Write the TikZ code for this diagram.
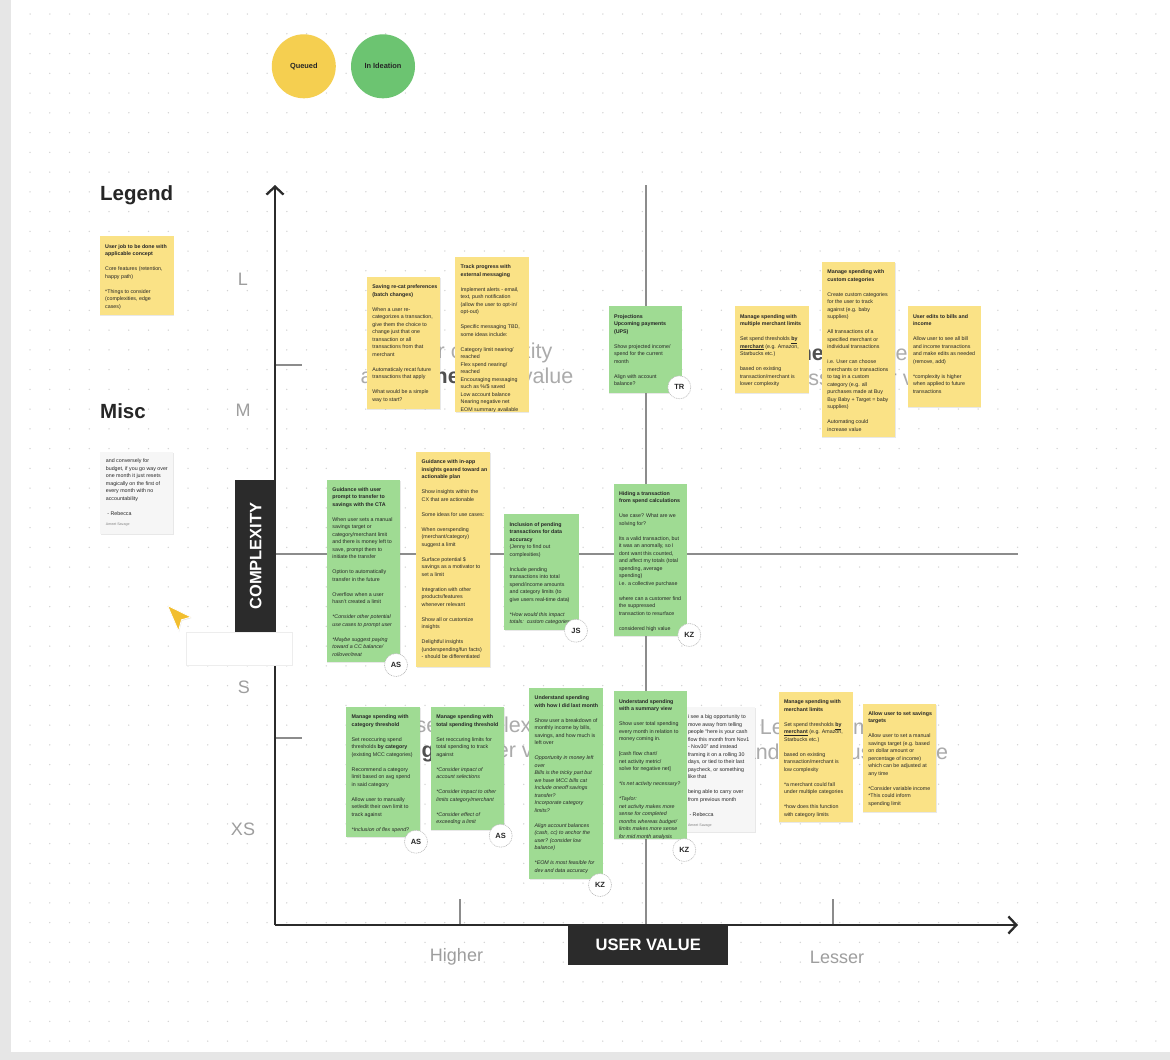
\documentclass[tikz,border=0pt]{standalone}
\usepackage{fontspec}
\setmainfont{Liberation Sans}
\usetikzlibrary{arrows.meta,shadows}
\definecolor{noteY}{HTML}{FAE286}
\definecolor{noteG}{HTML}{9FDB93}
\definecolor{cardc}{HTML}{F6F6F6}
\definecolor{ink}{HTML}{262626}
\definecolor{axisc}{HTML}{2B2B2B}
\definecolor{quadc}{HTML}{8C8C8C}
\definecolor{labc}{HTML}{9E9E9E}
\definecolor{ghostc}{HTML}{ABABAB}
\definecolor{ghostdark}{HTML}{505050}
\definecolor{dotc}{HTML}{D2D2D2}
\definecolor{stripc}{HTML}{E6E6E6}
\definecolor{queuedc}{HTML}{F5CF50}
\definecolor{ideac}{HTML}{6CC471}
\definecolor{cursorc}{HTML}{F2BE2E}
\newcommand\gp{\\[7.5pt]}
\newcommand\bft[1]{\textbf{#1}}
\newcommand\itt[1]{\textit{#1}}
\begin{document}
\begin{tikzpicture}[x=1pt,y=-1pt,
  note/.style={anchor=north west, inner sep=0pt, minimum width=74pt,
    drop shadow={shadow xshift=0.4pt, shadow yshift=-1.2pt, opacity=0.18}},
  ynote/.style={note, fill=noteY},
  gnote/.style={note, fill=noteG},
  cnote/.style={note, fill=cardc},
  ntext/.style={anchor=north west, align=left, inner sep=0pt,
    font=\fontsize{5.3}{7.5}\selectfont, text=ink},
  avatar/.style={circle, fill=white, draw=gray!55, dash pattern=on 1pt off 0.8pt,
    line width=0.6pt, minimum size=23pt, inner sep=0pt,
    font=\bfseries\fontsize{7.5}{7.5}\selectfont, text=ink},
  ghost/.style={align=center, inner sep=0pt, text=ghostc,
    font=\fontsize{21.5}{25}\selectfont},
  axlab/.style={text=labc, inner sep=0pt, font=\fontsize{18}{18}\selectfont},
  axis/.style={draw=axisc, line width=2.3pt, -{Straight Barb[length=8pt,width=17pt]}},
  quad/.style={draw=quadc, line width=1.8pt},
  bigtitle/.style={anchor=west, inner sep=0pt, text=ink, font=\bfseries\fontsize{20.5}{20.5}\selectfont},
  status/.style={circle, minimum size=64pt, inner sep=0pt, text=ink, font=\bfseries\fontsize{7.4}{7.4}\selectfont},
  darkbox/.style={fill=axisc, text=white, inner sep=0pt, font=\bfseries\fontsize{16.5}{16.5}\selectfont}
]
\useasboundingbox (0,0) rectangle (1170,1060);
\fill[white] (0,0) rectangle (1170,1060);
\fill[stripc] (0,0) rectangle (10.5,1060);
\fill[stripc] (0,1052) rectangle (1170,1060);
\foreach \i in {0,...,57}{
  \foreach \j in {0,...,52}{
    \fill[dotc] ({30+\i*19.75},{14+\j*19.75}) circle (0.75pt);
  }
}
% status circles
\node[status, fill=queuedc] (queued) at (303.8,66.3) {Queued};
\node[status, fill=ideac] (ideation) at (383,66.3) {In Ideation};
% ghost quadrant labels (mostly hidden behind the notes)
\node[ghost] (gtl) at (467,365.5) {Higher complexity\\and \textbf{\textcolor{ghostdark}{higher}} user value};
\node[ghost] (gtr) at (852,365.5) {\textbf{\textcolor{ghostdark}{Higher}} complexity\\and lesser user value};
\node[ghost] (gbl) at (467,739.5) {Lesser complexity\\and \textbf{\textcolor{ghostdark}{higher}} user value};
\node[ghost] (gbr) at (846,739.5) {Lesser complexity\\and lesser user value};
% quadrant lines and ticks
\coordinate (vtop) at (646,185);
\coordinate (vbot) at (646,925);
\coordinate (hleft) at (275,554);
\coordinate (hright) at (1018,554);
\draw[quad] (vtop) -- (vbot);
\draw[quad] (hleft) -- (hright);
\coordinate (tl1) at (275,365); \coordinate (tl2) at (302,365);
\coordinate (tx1) at (275,738); \coordinate (tx2) at (302,738);
\coordinate (th1) at (460,925); \coordinate (th2) at (460,899);
\coordinate (tr1) at (833,925); \coordinate (tr2) at (833,899);
\draw[quad] (tl1) -- (tl2);
\draw[quad] (tx1) -- (tx2);
\draw[quad] (th1) -- (th2);
\draw[quad] (tr1) -- (tr2);
% axes
\coordinate (origin) at (275,925);
\coordinate (ytip) at (275,185);
\coordinate (xtip) at (1018,925);
\draw[axis] (origin) -- (ytip);
\draw[axis] (origin) -- (xtip);
% axis labels
\node[axlab] (lL) at (243,279.3) {L};
\node[axlab] (lM) at (243,410) {M};
\node[axlab] (lS) at (244,687.3) {S};
\node[axlab] (lXS) at (243,829) {XS};
\node[axlab] (lHigher) at (456.5,957) {Higher};
\node[axlab] (lLesser) at (837,957) {Lesser};
% legend / misc
\node[bigtitle] (legend) at (100,195.5) {Legend};
\node[bigtitle] (misc) at (100,411.5) {Misc};
\node[ynote, minimum height=79pt] (lg) at (99.5,236) {};
\node[ntext] (lgt) at ([shift={(5.5pt,-8pt)}]lg.north west) {\bft{User job to be done with}\\
\bft{applicable concept}\gp
Core features (retention,\\
happy path)\gp
{}*Things to consider\\
(complexities, edge\\
cases)};
\node[cnote, minimum width=73pt, minimum height=82pt] (mc) at (100,451.7) {};
\node[ntext] (mct) at ([shift={(5.7pt,-6.8pt)}]mc.north west) {and conversely for\\
budget, if you go way over\\
one month it just resets\\
magically on the first of\\
every month with no\\
accountability\gp
\hspace*{1.5pt}- Rebecca\\[3pt]
{\color{gray}\fontsize{3.6}{4}\selectfont Ameet Savage}};
% top row stickies
\node[ynote, minimum width=73.5pt, minimum height=132pt] (s1) at (366.7,276.7) {};
\node[ntext] (s1t) at ([shift={(5.5pt,-8pt)}]s1.north west) {\bft{Saving re-cat preferences}\\
\bft{(batch changes)}\gp
When a user re-\\
categorizes a transaction,\\
give them the choice to\\
change just that one\\
transaction or all\\
transactions from that\\
merchant\gp
Automaticaly recat future\\
transactions that apply\gp
What would be a simple\\
way to start?};
\node[ynote, minimum width=73.5pt, minimum height=155pt] (s2) at (455,256.7) {};
\node[ntext] (s2t) at ([shift={(5.5pt,-8pt)}]s2.north west) {\bft{Track progress with}\\
\bft{external messaging}\gp
Implement alerts - email,\\
text, push notification\\
(allow the user to opt-in/\\
opt-out)\gp
Specific messaging TBD,\\
some ideas include:\gp
Category limit nearing/\\
reached\\
Flex spend nearing/\\
reached\\
Encouraging messaging\\
such as \%/\$ saved\\
Low account balance\\
Nearing negative net\\
EOM summary available};
\node[gnote, minimum width=73.5pt, minimum height=86.7pt] (s3) at (608.3,306) {};
\node[ntext] (s3t) at ([shift={(5.5pt,-8pt)}]s3.north west) {\bft{Projections}\\
\bft{Upcoming payments}\\
\bft{(UPS)}\gp
Show projected income/\\
spend for the current\\
month\gp
Align with account\\
balance?};
\node[avatar] (a3) at (679.3,387.3) {TR};
\node[ynote, minimum width=74pt, minimum height=86.7pt] (s4) at (734.3,306) {};
\node[ntext] (s4t) at ([shift={(5.5pt,-8pt)}]s4.north west) {\bft{Manage spending with}\\
\bft{multiple merchant limits}\gp
Set spend thresholds \underline{\bft{by}}\\
\underline{\bft{merchant}} (e.g. Amazon,\\
Starbucks etc.)\gp
based on existing\\
transaction/merchant is\\
lower complexity};
\node[ynote, minimum width=73.5pt, minimum height=175pt] (s5) at (821.7,261.7) {};
\node[ntext] (s5t) at ([shift={(5.5pt,-8pt)}]s5.north west) {\bft{Manage spending with}\\
\bft{custom categories}\gp
Create custom categories\\
for the user to track\\
against (e.g. baby\\
supplies)\gp
All transactions of a\\
specified merchant or\\
individual transactions\gp
i.e. User can choose\\
merchants or transactions\\
to tag in a custom\\
category (e.g. all\\
purchases made at Buy\\
Buy Baby + Target = baby\\
supplies)\gp
Automating could\\
increase value};
\node[ynote, minimum width=73.5pt, minimum height=100.7pt] (s6) at (907.3,306) {};
\node[ntext] (s6t) at ([shift={(5.5pt,-8pt)}]s6.north west) {\bft{User edits to bills and}\\
\bft{income}\gp
Allow user to see all bill\\
and income transactions\\
and make edits as needed\\
(remove, add)\gp
{}*complexity is higher\\
when applied to future\\
transactions};
% middle row
\node[gnote, minimum width=73.5pt, minimum height=182.4pt] (s7) at (326.7,479.3) {};
\node[ntext] (s7t) at ([shift={(5.5pt,-8pt)}]s7.north west) {\bft{Guidance with user}\\
\bft{prompt to transfer to}\\
\bft{savings with the CTA}\gp
When user sets a manual\\
savings target or\\
category/merchant limit\\
and there is money left to\\
save, prompt them to\\
initiate the transfer\gp
Option to automatically\\
transfer in the future\gp
Overflow when a user\\
hasn't created a limit\gp
\itt{*Consider other potential}\\
\itt{use cases to prompt user}\gp
\itt{*Maybe suggest paying}\\
\itt{toward a CC balance/}\\
\itt{rollover/treat}};
\node[avatar] (a7) at (396,665) {AS};
\node[ynote, minimum width=74pt, minimum height=215pt] (s8) at (416,451.7) {};
\node[ntext] (s8t) at ([shift={(5.5pt,-8pt)}]s8.north west) {\bft{Guidance with in-app}\\
\bft{insights geared toward an}\\
\bft{actionable plan}\gp
Show insights within the\\
CX that are actionable\gp
Some ideas for use cases:\gp
When overspending\\
(merchant/category)\\
suggest a limit\gp
Surface potential \$\\
savings as a motivator to\\
set a limit\gp
Integration with other\\
products/features\\
whenever relevant\gp
Show all or customize\\
insights\gp
Delightful insights\\
(underspending/fun facts)\\
- should be differentiated};
\node[gnote, minimum width=74.3pt, minimum height=116pt] (s9) at (504,514) {};
\node[ntext] (s9t) at ([shift={(5.5pt,-8pt)}]s9.north west) {\bft{Inclusion of pending}\\
\bft{transactions for data}\\
\bft{accuracy}\\
(Jenny to find out\\
complexities)\gp
Include pending\\
transactions into total\\
spend/income amounts\\
and category limits (to\\
give users real-time data)\gp
\itt{*How would this impact}\\
\itt{totals:\ \ custom categories}};
\node[avatar] (a9) at (576,630.7) {JS};
\node[gnote, minimum width=73.5pt, minimum height=152.7pt] (s10) at (613.3,483.3) {};
\node[ntext] (s10t) at ([shift={(5.5pt,-8pt)}]s10.north west) {\bft{Hiding a transaction}\\
\bft{from spend calculations}\gp
Use case? What are we\\
solving for?\gp
Its a valid transaction, but\\
it was an anomally, so I\\
dont want this counted,\\
and affect my totals (total\\
spending, average\\
spending)\\
i.e. a collective purchase\gp
where can a customer find\\
the suppressed\\
transaction to resurface\gp
considered high value};
\node[avatar] (a10) at (689.3,635) {KZ};
% bottom row
\node[gnote, minimum width=74pt, minimum height=130pt] (s11) at (346,706.7) {};
\node[ntext] (s11t) at ([shift={(5.5pt,-8pt)}]s11.north west) {\bft{Manage spending with}\\
\bft{category threshold}\gp
Set reoccuring spend\\
thresholds \bft{by category}\\
(existing MCC categories)\gp
Recommend a category\\
limit based on avg spend\\
in said category\gp
Allow user to manually\\
set/edit their own limit to\\
track against\gp
\itt{*Inclusion of flex spend?}};
\node[avatar] (a11) at (416,841.7) {AS};
\node[gnote, minimum width=73.3pt, minimum height=123.3pt] (s12) at (430.7,706.7) {};
\node[ntext] (s12t) at ([shift={(5.5pt,-8pt)}]s12.north west) {\bft{Manage spending with}\\
\bft{total spending threshold}\gp
Set reoccuring limits for\\
total spending to track\\
against\gp
\itt{*Consider impact of}\\
\itt{account selections}\gp
\itt{*Consider impact to other}\\
\itt{limits category/merchant}\gp
\itt{*Consider effect of}\\
\itt{exceeding a limit}};
\node[avatar] (a12) at (500.7,835.7) {AS};
\node[gnote, minimum width=73.7pt, minimum height=190.6pt] (s13) at (529,687.7) {};
\node[ntext] (s13t) at ([shift={(5.5pt,-8pt)}]s13.north west) {\bft{Understand spending}\\
\bft{with how I did last month}\gp
Show user a breakdown of\\
monthly income by bills,\\
savings, and how much is\\
left over\gp
\itt{Opportunity in money left}\\
\itt{over}\\
\itt{Bills is the tricky part but}\\
\itt{we have MCC bills cat}\\
\itt{Include oneoff savings}\\
\itt{transfer?}\\
\itt{Incorporate category}\\
\itt{limits?}\gp
\itt{Align account balances}\\
\itt{(cash, cc) to anchor the}\\
\itt{user? (consider low}\\
\itt{balance)}\gp
\itt{*EOM is most feasible for}\\
\itt{dev and data accuracy}};
\node[avatar] (a13) at (600,885) {KZ};
\node[cnote, minimum width=77pt, minimum height=125pt] (c15) at (678,706.7) {};
\node[ntext] (c15t) at (687.8,714.7) {i see a big opportunity to\\
move away from telling\\
people ``here is your cash\\
flow this month from Nov1\\
- Nov30'' and instead\\
framing it on a rolling 30\\
days, or tied to their last\\
paycheck, or something\\
like that\gp
being able to carry over\\
from previous month\gp
\hspace*{1.5pt}- Rebecca\\[3pt]
{\color{gray}\fontsize{3.6}{4}\selectfont Ameet Savage}};
\node[gnote, minimum width=73.4pt, minimum height=148pt] (s14) at (613.3,691) {};
\node[ntext] (s14t) at ([shift={(5.5pt,-8pt)}]s14.north west) {\bft{Understand spending}\\
\bft{with a summary view}\gp
Show user total spending\\
every month in relation to\\
money coming in.\gp
{[}cash flow chart/\\
net activity metric/\\
solve for negative net]\gp
\itt{*Is net activity necessary?}\gp
\itt{*Taylor:}\\
\itt{net activity makes more}\\
\itt{sense for completed}\\
\itt{months whereas budget/}\\
\itt{limits makes more sense}\\
\itt{for mid month analysis}};
\node[avatar] (a14) at (684.3,850) {KZ};
\node[ynote, minimum width=74.4pt, minimum height=130pt] (s16) at (778.3,691.7) {};
\node[ntext] (s16t) at ([shift={(5.5pt,-8pt)}]s16.north west) {\bft{Manage spending with}\\
\bft{merchant limits}\gp
Set spend thresholds \underline{\bft{by}}\\
\underline{\bft{merchant}} (e.g. Amazon,\\
Starbucks etc.)\gp
based on existing\\
transaction/merchant is\\
low complexity\gp
{}*a merchant could fall\\
under multiple categories\gp
{}*how does this function\\
with category limits};
\node[ynote, minimum width=73.3pt, minimum height=108.4pt] (s17) at (862.7,703.3) {};
\node[ntext] (s17t) at ([shift={(5.5pt,-8pt)}]s17.north west) {\bft{Allow user to set savings}\\
\bft{targets}\gp
Allow user to set a manual\\
savings target (e.g. based\\
on dollar amount or\\
percentage of income)\\
which can be adjusted at\\
any time\gp
{}*Consider variable income\\
{}*This could inform\\
spending limit};
% axis title boxes
\node[draw=black!7, fill=white, line width=0.5pt, anchor=north west, minimum width=105.7pt, minimum height=33pt, inner sep=0pt] (blank) at (186,632) {};
\node[darkbox, anchor=north west, minimum width=41pt, minimum height=151.7pt] (cbox) at (235,480) {};
\node[text=white, inner sep=0pt, rotate=90, font=\bfseries\fontsize{16.5}{16.5}\selectfont] (ctext) at (cbox.center) {COMPLEXITY};
\node[darkbox, anchor=north west, minimum width=160pt, minimum height=40pt] (uv) at (568,925) {USER VALUE};
% cursor
\fill[cursorc, draw=white, line width=0.8pt, drop shadow={shadow xshift=0.5pt, shadow yshift=-1pt, opacity=0.2}] (167.5,605.5) -- (191,617) -- (181.5,619.8) -- (178.5,631) -- cycle;
\end{tikzpicture}
\end{document}
